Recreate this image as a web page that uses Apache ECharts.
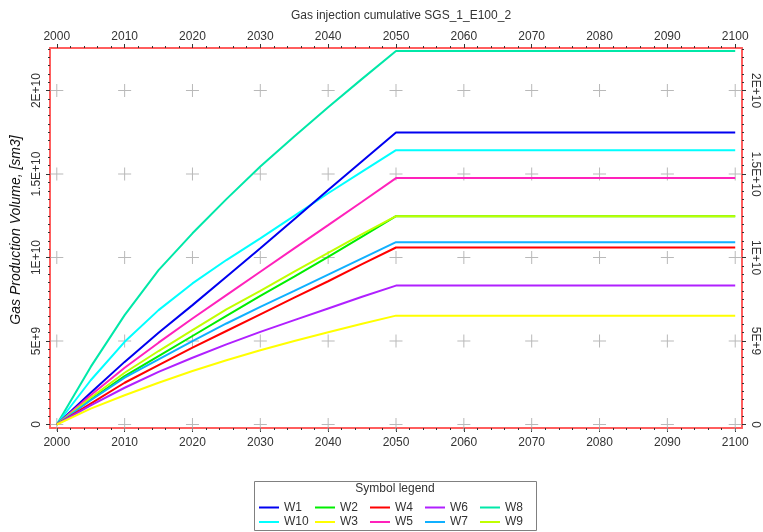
<!DOCTYPE html>
<html><head><meta charset="utf-8">
<script src="https://cdn.jsdelivr.net/npm/echarts@6/dist/echarts.min.js"></script>
<style>html,body{margin:0;padding:0;background:#fff}#c{width:763px;height:532px}</style>
</head><body><div id="c"></div>
<script>
const years = [2000,2005,2010,2015,2020,2025,2030,2035,2040,2045,2050,2100];
const W1  = [0,1.90e9,3.75e9,5.50e9,7.15e9,8.85e9,10.55e9,12.30e9,14.05e9,15.77e9,17.49e9,17.49e9];
const W2  = [0,1.50e9,2.90e9,4.10e9,5.30e9,6.50e9,7.70e9,8.85e9,10.04e9,11.25e9,12.48e9,12.48e9];
const W3  = [0,0.95e9,1.75e9,2.50e9,3.20e9,3.85e9,4.45e9,5.00e9,5.53e9,6.03e9,6.52e9,6.52e9];
const W4  = [0,1.25e9,2.50e9,3.55e9,4.60e9,5.60e9,6.60e9,7.60e9,8.58e9,9.60e9,10.60e9,10.60e9];
const W5  = [0,1.75e9,3.40e9,4.90e9,6.35e9,7.75e9,9.15e9,10.55e9,11.94e9,13.34e9,14.76e9,14.76e9];
const W6  = [0,1.15e9,2.20e9,3.15e9,4.00e9,4.80e9,5.55e9,6.25e9,6.95e9,7.65e9,8.32e9,8.32e9];
const W7  = [0,1.45e9,2.80e9,3.90e9,5.00e9,6.05e9,7.05e9,8.00e9,8.98e9,9.95e9,10.92e9,10.92e9];
const W8  = [0,3.45e9,6.55e9,9.25e9,11.45e9,13.50e9,15.45e9,17.25e9,19.00e9,20.70e9,22.37e9,22.37e9];
const W9  = [0,1.60e9,3.10e9,4.40e9,5.65e9,6.90e9,8.00e9,9.15e9,10.28e9,11.40e9,12.48e9,12.48e9];
const W10 = [0,2.65e9,4.95e9,6.85e9,8.45e9,9.85e9,11.15e9,12.50e9,13.85e9,15.15e9,16.43e9,16.43e9];

const legendRow1 = ['W1','W2','W4','W6','W8'];
const legendRow2 = ['W10','W3','W5','W7','W9'];
const seriesData = {W1,W2,W3,W4,W5,W6,W7,W8,W9,W10};
const seriesColors = {W1:'#0000f0',W2:'#00ee00',W3:'#ffff00',W4:'#ff0000',W5:'#ff22bb',
  W6:'#b020ff',W7:'#10b0ff',W8:'#00e8a8',W9:'#c0ff00',W10:'#00ffff'};

const xTicks = [2000,2010,2020,2030,2040,2050,2060,2070,2080,2090,2100];
const yTicks = [0,5e9,1e10,1.5e10,2e10];
const yTickLabels = ['0','5E+9','1E+10','1.5E+10','2E+10'];
const titleText = 'Gas injection cumulative SGS_1_E100_2';
const yName = 'Gas Production Volume, [sm3]';
const legendTitle = 'Symbol legend';

const xMinor = []; for (let v = 2000; v <= 2100; v += 2) xMinor.push(v);
const yMinor = []; for (let v = 0; v <= 2.25e10; v += 5e8) yMinor.push(v);

const FONT = 'Liberation Sans, Arial, sans-serif';
const RED = '#ff5e5e';
const X_MIN = 1999, X_MAX = 2101, Y_MIN = -2.1e8, Y_MAX = 2.255e10;

function yFmt(v){ const i = yTicks.indexOf(v); return i >= 0 ? yTickLabels[i] : ''; }

function mkX(pos, major){
  return {type:'value', min:X_MIN, max:X_MAX, position:pos,
    axisLine:{show:major, onZero:false, lineStyle:{color:RED, width:2}},
    axisTick:{show:true, customValues: major? xTicks : xMinor, length: major?4:2, lineStyle:{color:'#333', width:1}},
    axisLabel:{show:major, customValues:xTicks, margin: pos==='top'?5:9, color:'#333', fontSize:12, fontFamily:FONT, formatter:v=>String(v)},
    splitLine:{show:false}};
}
function mkY(pos, major){
  return {type:'value', min:Y_MIN, max:Y_MAX, position:pos,
    axisLine:{show:major, onZero:false, lineStyle:{color:RED, width:2}},
    axisTick:{show:true, customValues: major? yTicks : yMinor, length: major?4:2, lineStyle:{color:'#333', width:1}},
    axisLabel:{show:major, customValues:yTicks, rotate: pos==='left'?90:-90, margin:7, color:'#333', fontSize:12, fontFamily:FONT, formatter:yFmt},
    splitLine:{show:false}};
}

const crosses = [];
xTicks.forEach(x => yTicks.forEach(y => crosses.push([x,y])));

const series = [{
  type:'scatter', name:'grid', data:crosses, silent:true, z:1,
  symbol:'path://M6,0H7V6H13V7H7V13H6V7H0V6H6Z', symbolSize:[13,13],
  itemStyle:{color:'#a8a8a8'}, xAxisIndex:0, yAxisIndex:0
}];
['W8','W10','W1','W5','W2','W9','W7','W4','W6','W3'].forEach(n => {
  series.push({type:'line', name:n, xAxisIndex:0, yAxisIndex:0, z:3,
    data: years.map((y,i)=>[y, seriesData[n][i]]),
    showSymbol:false, symbol:'none', smooth:false,
    lineStyle:{color:seriesColors[n], width:2}, itemStyle:{color:seriesColors[n]}});
});

const legendX = [259, 315, 370, 425, 480];
const legends = [];
[[legendRow1, 501.5], [legendRow2, 516]].forEach(([row, top]) => {
  row.forEach((name, i) => {
    legends.push({data:[name], left:legendX[i], top, padding:0, icon:'rect', itemWidth:20, itemHeight:2,
      selectedMode:false, textStyle:{color:'#333', fontSize:12, fontFamily:FONT}});
  });
});

const chart = echarts.init(document.getElementById('c'), null, {renderer:'canvas'});
chart.setOption({
  animation:false,
  backgroundColor:'#fff',
  title:{text:titleText, left:396, top:5, textAlign:'center',
    textStyle:{fontSize:12, fontWeight:'normal', color:'#333', fontFamily:FONT}},
  grid:{left:50, right:21, top:48, bottom:104, containLabel:false},
  xAxis:[mkX('bottom',true), mkX('top',true), mkX('bottom',false), mkX('top',false)],
  yAxis:[Object.assign(mkY('left',true), {name:yName, nameLocation:'middle', nameGap:22,
           nameTextStyle:{fontStyle:'italic', fontSize:14, color:'#111', fontFamily:FONT, verticalAlign:'middle', padding:[0,0,0,16]}}),
         mkY('right',true), mkY('left',false), mkY('right',false)],
  legend:legends,
  graphic:[
    {type:'rect', shape:{x:254.5, y:481.5, width:282, height:49}, style:{fill:'none', stroke:'#808080', lineWidth:1}, silent:true},
    {type:'text', style:{text:legendTitle, x:395, y:489, textAlign:'center', textVerticalAlign:'middle',
      font:'12px '+FONT, fill:'#333'}, silent:true}
  ],
  series
});
</script></body></html>
